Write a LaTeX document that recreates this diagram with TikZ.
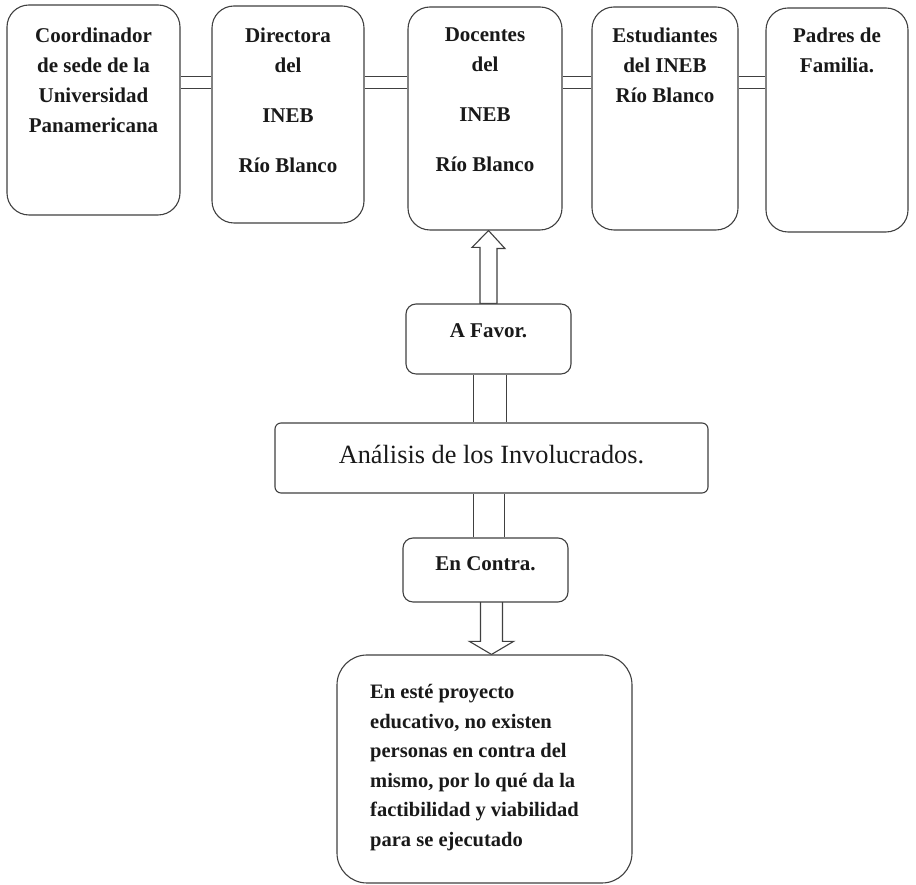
\documentclass[tikz,border=0pt]{standalone}
\usepackage{fontspec}
\setmainfont{Liberation Serif}
\usetikzlibrary{positioning, backgrounds}
\tikzset{box/.style={draw=black!75, line width=1.1pt, rounded corners=22pt, fill=white, inner sep=0pt},
  txt/.style={font=\bfseries\fontsize{21}{30}\selectfont, align=center, inner sep=0pt, anchor=north, text=black!90},
  bar/.style={draw=black!75, line width=1.1pt, double=white, double distance=11pt},
  hollow/.style={draw=black!75, line width=1.1pt, fill=white, line join=miter}}

\begin{document}
\begin{tikzpicture}[x=1pt, y=1pt]
        \useasboundingbox (0,0) rectangle (916,885);
        \node[box, minimum width=173, minimum height=210] (coord) at (93.5,775) {};
        \node[box, minimum width=152, minimum height=217] (dir) at (288,770.5) {};
        \node[box, minimum width=154, minimum height=223] (doc) at (485,766.5) {};
        \node[box, minimum width=146, minimum height=223] (est) at (665,766.5) {};
        \node[box, minimum width=142, minimum height=224] (pad) at (837,765) {};
        
        \node[txt] (coordT) at (93.5,857) {Coordinador\\de sede de la\\Universidad\\Panamericana};
        \node[txt] (dirT) at (288,857) {Directora\\del\\[20pt]INEB\\[20pt]Río Blanco};
        \node[txt] (docT) at (485,857) {Docentes\\del\\[20pt]INEB\\[20pt]Río Blanco};
        \node[txt] (estT) at (665,857) {Estudiantes\\del INEB\\Río Blanco};
        \node[txt] (padT) at (837,857) {Padres de\\Familia.};
        
        \node[box, rounded corners=10pt, minimum width=165, minimum height=70] (favor) at (488.5,546) {};
        \node[txt] (favorT) at (488.5,562) {A Favor.};
        \node[box, rounded corners=6pt, minimum width=433, minimum height=70] (anal) at (491.5,427) {};
        \node[txt, font=\fontsize{26.3}{30}\selectfont] (analT) at (491.5,440) {Análisis de los Involucrados.};
        \node[box, rounded corners=10pt, minimum width=165, minimum height=64] (contra) at (485.5,315) {};
        \node[txt] (contraT) at (485.5,329) {En Contra.};
        \node[box, rounded corners=30pt, minimum width=295, minimum height=228] (fin) at (484.5,116) {};
        \node[txt, font=\bfseries\fontsize{20.5}{29.6}\selectfont, align=left, anchor=north west] (finT) at (370,201)
        {En esté proyecto\\educativo, no existen\\personas en contra del\\mismo, por lo qué da la\\factibilidad y viabilidad\\para se ejecutado};
        
        \coordinate (row) at (0,802.5);
        \coordinate (dtip) at ([xshift=7pt]fin.north);
        \begin{scope}[on background layer]
        \foreach \a/\b in {coord/dir, dir/doc, doc/est, est/pad}
        \draw[bar] (\a.east |- row) -- (\b.west |- row);
        
        \draw[bar, double distance=32pt] ([xshift=1.5pt]favor.south) -- ([xshift=1.5pt]favor.south |- anal.north);
        \draw[bar, double distance=30pt] ([xshift=3.5pt]contra.north) -- ([xshift=3.5pt]contra.north |- anal.south);
        
        \draw[hollow] (favor.north |- doc.south) -- ++(16.5,-18) -- ++(-8,0) -- ([xshift=8.5pt]favor.north)
        -- ([xshift=-8.5pt]favor.north) -- ++(0,56) -- ++(-8,0) -- cycle;
        \draw[hollow] (dtip) -- ++(22,13) -- ++(-11,0) -- ++(0,40) -- ++(-22,0) -- ++(0,-40) -- ++(-11,0) -- cycle;
        \end{scope}
        
\end{tikzpicture}
\end{document}
